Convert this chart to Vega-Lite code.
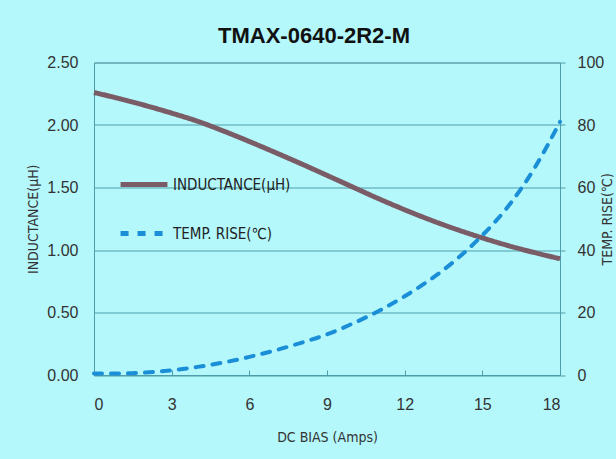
{
  "$schema": "https://vega.github.io/schema/vega-lite/v6.json",
  "width": 466,
  "height": 312.5,
  "autosize": {"type": "none"},
  "padding": {"left": 94, "top": 62.5, "right": 56, "bottom": 84},
  "background": "#b4f8fb",
  "title": {
    "text": "TMAX-0640-2R2-M",
    "font": "Liberation Sans Narrow, Liberation Sans",
    "fontSize": 22,
    "fontWeight": "bold",
    "color": "#111111",
    "offset": 7,
    "dx": -13
  },
  "config": {
    "view": {"stroke": "#7aa7ae", "strokeWidth": 1},
    "font": "Liberation Sans Narrow, Liberation Sans",
    "axis": {
      "labelFont": "Liberation Sans Narrow, Liberation Sans",
      "labelFontSize": 16,
      "labelColor": "#333333",
      "titleFont": "DejaVu Sans Condensed, Liberation Sans Narrow",
      "titleFontSize": 14,
      "titleFontWeight": "normal",
      "titleColor": "#333333",
      "domainColor": "#4e9dab",
      "tickColor": "#4e9dab",
      "gridColor": "#4e9dab",
      "gridOpacity": 1
    },
    "legend": {
      "labelFont": "DejaVu Sans Condensed, Liberation Sans Narrow",
      "labelFontSize": 15,
      "labelColor": "#222222"
    }
  },
  "data": {
    "values": [
      {"x": 0, "v": 2.26, "s": "INDUCTANCE(μH)"},
      {"x": 1, "v": 2.21, "s": "INDUCTANCE(μH)"},
      {"x": 2, "v": 2.155, "s": "INDUCTANCE(μH)"},
      {"x": 3, "v": 2.095, "s": "INDUCTANCE(μH)"},
      {"x": 4, "v": 2.03, "s": "INDUCTANCE(μH)"},
      {"x": 5, "v": 1.952, "s": "INDUCTANCE(μH)"},
      {"x": 6, "v": 1.868, "s": "INDUCTANCE(μH)"},
      {"x": 7, "v": 1.78, "s": "INDUCTANCE(μH)"},
      {"x": 8, "v": 1.69, "s": "INDUCTANCE(μH)"},
      {"x": 9, "v": 1.597, "s": "INDUCTANCE(μH)"},
      {"x": 10, "v": 1.503, "s": "INDUCTANCE(μH)"},
      {"x": 11, "v": 1.41, "s": "INDUCTANCE(μH)"},
      {"x": 12, "v": 1.322, "s": "INDUCTANCE(μH)"},
      {"x": 13, "v": 1.24, "s": "INDUCTANCE(μH)"},
      {"x": 14, "v": 1.165, "s": "INDUCTANCE(μH)"},
      {"x": 15, "v": 1.097, "s": "INDUCTANCE(μH)"},
      {"x": 16, "v": 1.035, "s": "INDUCTANCE(μH)"},
      {"x": 17, "v": 0.98, "s": "INDUCTANCE(μH)"},
      {"x": 18, "v": 0.93, "s": "INDUCTANCE(μH)"},
      {"x": 0, "v": 0.5, "s": "TEMP. RISE(℃)"},
      {"x": 1, "v": 0.5, "s": "TEMP. RISE(℃)"},
      {"x": 2, "v": 0.8, "s": "TEMP. RISE(℃)"},
      {"x": 3, "v": 1.5, "s": "TEMP. RISE(℃)"},
      {"x": 4, "v": 2.6, "s": "TEMP. RISE(℃)"},
      {"x": 5, "v": 4.0, "s": "TEMP. RISE(℃)"},
      {"x": 6, "v": 5.8, "s": "TEMP. RISE(℃)"},
      {"x": 7, "v": 7.9, "s": "TEMP. RISE(℃)"},
      {"x": 8, "v": 10.3, "s": "TEMP. RISE(℃)"},
      {"x": 9, "v": 13.0, "s": "TEMP. RISE(℃)"},
      {"x": 10, "v": 16.5, "s": "TEMP. RISE(℃)"},
      {"x": 11, "v": 20.5, "s": "TEMP. RISE(℃)"},
      {"x": 12, "v": 25.2, "s": "TEMP. RISE(℃)"},
      {"x": 13, "v": 30.6, "s": "TEMP. RISE(℃)"},
      {"x": 14, "v": 37.0, "s": "TEMP. RISE(℃)"},
      {"x": 15, "v": 44.7, "s": "TEMP. RISE(℃)"},
      {"x": 16, "v": 54.0, "s": "TEMP. RISE(℃)"},
      {"x": 17, "v": 66.0, "s": "TEMP. RISE(℃)"},
      {"x": 18, "v": 81.0, "s": "TEMP. RISE(℃)"}
    ]
  },
  "encoding": {
    "x": {
      "field": "x",
      "type": "quantitative",
      "scale": {"domain": [0, 18], "nice": false, "zero": false},
      "axis": {
        "title": "DC BIAS  (Amps)",
        "values": [0, 3, 6, 9, 12, 15, 18],
        "grid": false,
        "tickSize": -5,
        "labelPadding": 26,
        "titlePadding": 18
      }
    },
    "color": {
      "field": "s",
      "type": "nominal",
      "scale": {"domain": ["INDUCTANCE(μH)", "TEMP. RISE(℃)"], "range": ["#7a5c66", "#1a8ed6"]},
      "legend": {
        "title": null,
        "orient": "none",
        "legendX": 24,
        "legendY": 96,
        "symbolType": "stroke",
        "symbolSize": 2200,
        "symbolStrokeWidth": 5,
        "rowPadding": 13,
        "labelOffset": 3
      }
    },
    "strokeDash": {
      "field": "s",
      "type": "nominal",
      "scale": {"domain": ["INDUCTANCE(μH)", "TEMP. RISE(℃)"], "range": [[1, 0], [8, 9]]},
      "legend": {
        "title": null,
        "orient": "none",
        "legendX": 24,
        "legendY": 96,
        "symbolType": "stroke",
        "symbolSize": 2200,
        "symbolStrokeWidth": 5,
        "rowPadding": 13,
        "labelOffset": 3
      }
    }
  },
  "layer": [
    {
      "transform": [{"filter": "datum.s == 'INDUCTANCE(μH)'"}],
      "mark": {"type": "line", "strokeWidth": 5, "interpolate": "monotone"},
      "encoding": {
        "y": {
          "field": "v",
          "type": "quantitative",
          "scale": {"domain": [0, 2.5], "nice": false},
          "axis": {
            "title": "INDUCTANCE(μH)",
            "orient": "left",
            "values": [0, 0.5, 1, 1.5, 2, 2.5],
            "format": ".2f",
            "ticks": false,
            "labelPadding": 16,
            "titlePadding": 6
          }
        }
      }
    },
    {
      "transform": [{"filter": "datum.s == 'TEMP. RISE(℃)'"}],
      "mark": {"type": "line", "strokeWidth": 4, "interpolate": "monotone", "strokeCap": "round"},
      "encoding": {
        "y": {
          "field": "v",
          "type": "quantitative",
          "scale": {"domain": [0, 100], "nice": false},
          "axis": {
            "title": "TEMP. RISE(℃)",
            "orient": "right",
            "values": [0, 20, 40, 60, 80, 100],
            "grid": false,
            "tickSize": 5,
            "labelPadding": 12,
            "titleAngle": 270,
            "titlePadding": 11
          }
        }
      }
    }
  ],
  "resolve": {"scale": {"y": "independent"}}
}
